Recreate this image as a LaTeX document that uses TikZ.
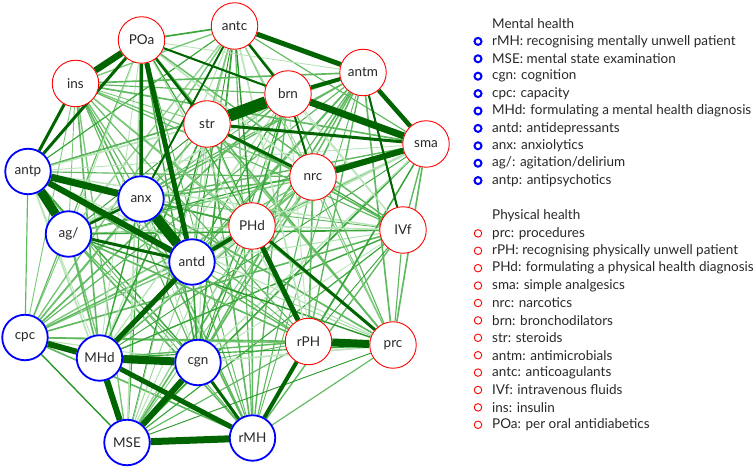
\documentclass[tikz,border=0pt]{standalone}
\usepackage{fontspec}
\setmainfont{Lato}
\usetikzlibrary{backgrounds}
\definecolor{dg}{RGB}{0,100,0}
\definecolor{ec0}{RGB}{40,150,40}
\definecolor{ec1}{RGB}{95,185,95}
\definecolor{ec2}{RGB}{150,212,150}
\definecolor{ec3}{RGB}{55,165,55}
\definecolor{ec4}{RGB}{120,200,120}
\definecolor{ec5}{RGB}{185,228,185}
\definecolor{txt}{RGB}{40,40,40}
\begin{document}
\begin{tikzpicture}[x=1bp,y=-1bp,
  lab/.style={font=\fontsize{13.5bp}{15bp}\selectfont, text=txt},
  mnode/.style={lab, circle, draw=blue, line width=1.8bp, fill=white, minimum size=45.5bp, inner sep=0pt},
  pnode/.style={lab, circle, draw=red, line width=0.9bp, fill=white, minimum size=46.5bp, inner sep=0pt},
  hv/.style={draw=dg, line width=#1 bp},
  legtxt/.style={font=\fontsize{13.5bp}{16bp}\selectfont, text=txt, anchor=west, inner sep=0pt},
  mmark/.style={circle, draw=blue, line width=2bp, minimum size=7bp, inner sep=0pt},
  pmark/.style={circle, draw=red, line width=0.9bp, minimum size=7.5bp, inner sep=0pt}]
\useasboundingbox (0,0) rectangle (753,467);

% nodes
\node[mnode] (rMH)  at (252.5,438) {rMH};
\node[mnode] (MSE)  at (127,442.5) {MSE};
\node[mnode] (cgn)  at (198,362.5) {cgn};
\node[mnode] (cpc)  at (25,337.5) {cpc};
\node[mnode] (MHd)  at (99.5,358) {MHd};
\node[mnode] (antd) at (192,262) {antd};
\node[mnode] (anx)  at (141,199) {anx};
\node[mnode] (ag)   at (68.5,234) {ag/};
\node[mnode] (antp) at (28,171.5) {antp};
\node[pnode] (prc)  at (393,345) {prc};
\node[pnode] (rPH)  at (308.5,341.5) {rPH};
\node[pnode] (PHd)  at (252,226) {PHd};
\node[pnode] (sma)  at (426,144) {sma};
\node[pnode] (nrc)  at (313,177) {nrc};
\node[pnode] (brn)  at (288,94) {brn};
\node[pnode] (str)  at (207,124) {str};
\node[pnode] (antm) at (363,72.5) {antm};
\node[pnode] (antc) at (234.5,26) {antc};
\node[pnode] (IVf)  at (403,230) {IVf};
\node[pnode] (ins)  at (75.5,83.5) {ins};
\node[pnode] (POa)  at (141.5,40) {POa};

\begin{scope}[on background layer]
  % background (light) edges between all pairs
  \foreach \a [count=\i] in {rMH,MSE,cgn,cpc,MHd,antd,anx,ag,antp,prc,rPH,PHd,sma,nrc,brn,str,antm,antc,IVf,ins,POa}{
    \foreach \b [count=\j] in {rMH,MSE,cgn,cpc,MHd,antd,anx,ag,antp,prc,rPH,PHd,sma,nrc,brn,str,antm,antc,IVf,ins,POa}{
      \ifnum\j>\i
        \pgfmathtruncatemacro\s{mod(\i*37+\j*17+\i*\j*7,6)}
        \pgfmathsetmacro\w{0.9+0.25*mod(\i*3+\j,4)}
        \draw[draw=ec\s, line width=\w bp] (\a) -- (\b);
      \fi
    }
  }
  % heavy edges
  \draw[hv=2] (brn) -- (nrc);
  \draw[hv=2] (antm) -- (IVf);
  \draw[hv=1.8] (antc) -- (anx);
  \draw[hv=2.5] (antc) -- (brn);
  \draw[hv=2] (POa) -- (brn);
  \draw[hv=2.5] (POa) -- (str);
  \draw[hv=3] (antp) -- (POa);
  \draw[hv=3] (antp) -- (ins);
  \draw[hv=2.5] (ag) -- (anx);
  \draw[hv=3] (ag) -- (antd);
  \draw[hv=3] (cgn) -- (rMH);
  \draw[hv=3] (PHd) -- (prc);
  \draw[hv=3] (str) -- (sma);
  \draw[hv=3] (str) -- (nrc);
  \draw[hv=3.5] (POa) -- (anx);
  \draw[hv=4] (rPH) -- (rMH);
  \draw[hv=4.5] (antm) -- (sma);
  \draw[hv=4] (brn) -- (antm);
  \draw[hv=4] (PHd) -- (antd);
  \draw[hv=5] (PHd) -- (rPH);
  \draw[hv=5] (antd) -- (MHd);
  \draw[hv=5] (MHd) -- (rMH);
  \draw[hv=5] (POa) -- (antd);
  \draw[hv=5] (antc) -- (antm);
  \draw[hv=6] (nrc) -- (sma);
  \draw[hv=6] (MHd) -- (cpc);
  \draw[hv=6] (MHd) -- (MSE);
  \draw[hv=6] (cgn) -- (MSE);
  \draw[hv=6] (antp) -- (antd);
  \draw[hv=6.5] (POa) -- (ins);
  \draw[hv=7] (brn) -- (sma);
  \draw[hv=7] (MSE) -- (rMH);
  \draw[hv=7] (antp) -- (anx);
  \draw[hv=8] (MHd) -- (cgn);
  \draw[hv=8] (rPH) -- (prc);
  \draw[hv=9] (antp) -- (ag);
  \draw[hv=10] (anx) -- (antd);
  \draw[hv=12] (brn) -- (str);
\end{scope}

% legend
\node[legtxt] (mh) at (492,24) {Mental health};
\foreach \t [count=\k] in {rMH: recognising mentally unwell patient, MSE: mental state examination, cgn: cognition, cpc: capacity, MHd: formulating a mental health diagnosis, antd: antidepressants, anx: anxiolytics, ag/: agitation/delirium, antp: antipsychotics}{
  \node[mmark] (mm\k) at (478,{24+17.4*\k}) {};
  \node[legtxt] (ml\k) at (492,{24+17.4*\k}) {\t};
}
\node[legtxt] (ph) at (492,216) {Physical health};
\foreach \t [count=\k] in {prc: procedures, rPH: recognising physically unwell patient, PHd: formulating a physical health diagnosis, sma: simple analgesics, nrc: narcotics, brn: bronchodilators, str: steroids, antm: antimicrobials, antc: anticoagulants, IVf: intravenous fluids, ins: insulin, POa: per oral antidiabetics}{
  \node[pmark] (pm\k) at (478,{216+17.4*\k}) {};
  \node[legtxt] (pl\k) at (492,{216+17.4*\k}) {\t};
}
\end{tikzpicture}
\end{document}
